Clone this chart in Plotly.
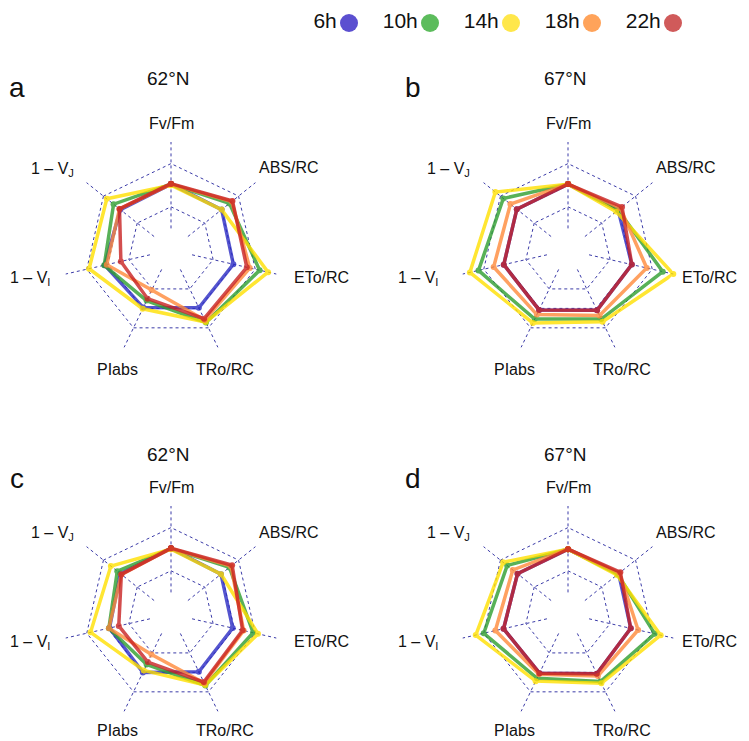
import plotly.graph_objects as go

# page is 749x741; the HTML body keeps an 8px margin, so the figure is 8px smaller
PAGE_W, PAGE_H, M = 749, 741, 8
FW, FH = PAGE_W - M, PAGE_H - M

axis_labels = ["Fv/Fm", "ABS/RC", "ETo/RC", "TRo/RC", "PIabs",
               "1 – V<sub>I</sub>", "1 – V<sub>J</sub>"]
hours = ["6h", "10h", "14h", "18h", "22h"]
latitudes = ["62°N", "67°N", "62°N", "67°N"]
panel_letters = ["a", "b", "c", "d"]

# panel a (62°N, top)
a_6h = [3.05, 3.00, 2.96, 2.97, 2.96, 3.15, 3.00]
a_10h = [3.05, 3.46, 4.21, 3.73, 2.60, 3.17, 3.40]
a_14h = [3.00, 3.00, 4.61, 3.70, 3.02, 3.89, 3.80]
a_18h = [3.05, 3.60, 3.74, 3.60, 2.06, 3.05, 3.05]
a_22h = [3.07, 3.64, 3.60, 3.53, 2.50, 2.38, 3.05]
# panel b (67°N, top)
b_6h = [3.05, 2.97, 3.03, 3.10, 3.08, 3.05, 3.03]
b_10h = [3.05, 2.97, 4.50, 3.55, 3.55, 4.25, 3.83]
b_14h = [3.05, 2.85, 5.00, 3.69, 3.75, 4.66, 4.30]
b_18h = [3.05, 3.10, 3.74, 3.37, 3.32, 3.53, 3.41]
b_22h = [3.05, 3.20, 3.03, 3.10, 3.08, 3.05, 3.03]
# panel c (62°N, bottom)
c_6h = [3.03, 2.96, 2.93, 2.97, 3.00, 2.92, 3.00]
c_10h = [3.03, 3.46, 3.90, 3.67, 2.60, 2.95, 3.18]
c_14h = [3.00, 2.96, 4.13, 3.65, 2.90, 3.82, 3.56]
c_18h = [3.03, 3.55, 3.45, 3.55, 2.08, 2.95, 2.94]
c_22h = [3.05, 3.62, 3.40, 3.50, 2.47, 2.48, 2.94]
# panel d (67°N, bottom)
d_6h = [3.00, 3.00, 2.98, 3.07, 3.04, 3.06, 2.99]
d_10h = [3.00, 2.95, 4.12, 3.47, 3.30, 4.00, 3.60]
d_14h = [3.00, 2.90, 4.40, 3.56, 3.45, 4.38, 3.84]
d_18h = [3.00, 3.05, 3.33, 3.19, 3.10, 3.45, 3.27]
d_22h = [3.00, 3.10, 2.98, 3.07, 3.04, 3.06, 2.99]

panels = [
    [a_6h, a_10h, a_14h, a_18h, a_22h],
    [b_6h, b_10h, b_14h, b_18h, b_22h],
    [c_6h, c_10h, c_14h, c_18h, c_22h],
    [d_6h, d_10h, d_14h, d_18h, d_22h],
]

line_colors = ["#2b2bc4", "#2f9e2f", "#ffe000", "#ff8a3a", "#c92222"]
legend_colors = ["#5b4fd0", "#5cbc5c", "#ffe74a", "#ffa35a", "#d05a5a"]

# layout geometry (page pixels)
centers = [(171, 250), (568, 250), (171, 614), (568, 614)]
R = 108
label_offsets = [(0, -127), (118, -82), (150, 27.5), (54, 120), (-54, 120),
                 (-150, 28), (-119, -81)]
bottom_label_dy = [120, 120, 116, 116]
label_xmin, label_xmax = 30, 709
title_dy = [-172, -172, -159, -159]
letter_pos = [(17, 87), (413, 87), (17, 478), (413, 478)]


def px(x):
    return (x - M) / FW


def py(y):
    return 1 - (y - M) / FH


font_family = "Liberation Sans, Arial, sans-serif"
fig = go.Figure()
annots = []

for p, series in enumerate(panels):
    pname = "polar" if p == 0 else f"polar{p+1}"
    for h, vals in enumerate(series):
        fig.add_trace(go.Scatterpolar(
            r=vals + [vals[0]],
            theta=axis_labels + [axis_labels[0]],
            mode="lines+markers",
            line=dict(color=line_colors[h], width=3.5),
            marker=dict(color=line_colors[h], size=6),
            opacity=0.8,
            name=hours[h],
            showlegend=False,
            cliponaxis=False,
            subplot=pname,
        ))
    cx, cy = centers[p]
    fig.layout[pname] = dict(
        domain=dict(x=[px(cx - R), px(cx + R)], y=[py(cy + R), py(cy - R)]),
        gridshape="linear",
        hole=0.2,
        bgcolor="white",
        radialaxis=dict(range=[0.9999, 5.0001], tickvals=[1, 2, 3, 4, 5],
                        showticklabels=False, ticks="", showline=False,
                        gridcolor="#3b3ba8", griddash="dot", gridwidth=1),
        angularaxis=dict(rotation=90, direction="clockwise",
                         categoryarray=axis_labels, categoryorder="array",
                         showline=False, ticks="", showticklabels=False,
                         gridcolor="#3b3ba8", griddash="dot", gridwidth=1),
    )
    for k, (lab, (dx, dy)) in enumerate(zip(axis_labels, label_offsets)):
        if k in (3, 4):
            dy = bottom_label_dy[p]
        lxp = min(max(cx + dx, label_xmin), label_xmax)
        annots.append(dict(text=lab, x=px(lxp), y=py(cy + dy),
                           xref="paper", yref="paper", showarrow=False,
                           font=dict(size=16, color="#111", family=font_family),
                           xanchor="center", yanchor="middle"))
    annots.append(dict(text=latitudes[p], x=px(cx - 3), y=py(cy + title_dy[p]),
                       xref="paper", yref="paper", showarrow=False,
                       font=dict(size=19, color="#111", family=font_family),
                       xanchor="center", yanchor="middle"))
    lx, ly = letter_pos[p]
    annots.append(dict(text=panel_letters[p], x=px(lx), y=py(ly),
                       xref="paper", yref="paper", showarrow=False,
                       font=dict(size=28, color="#111", family=font_family),
                       xanchor="center", yanchor="middle"))

# legend drawn as a small hidden cartesian subplot (label left of dot)
fig.add_trace(go.Scatter(
    x=list(range(len(hours))), y=[0] * len(hours),
    mode="markers+text", text=hours, textposition="middle left",
    textfont=dict(size=21, color="#111", family=font_family),
    marker=dict(color=legend_colors, size=18),
    showlegend=False, cliponaxis=False, hoverinfo="skip",
))
fig.update_layout(
    xaxis=dict(domain=[px(349), px(673)], range=[0, 4], visible=False, fixedrange=True),
    yaxis=dict(domain=[py(36), py(10)], range=[-1, 1], visible=False, fixedrange=True),
)

fig.update_layout(
    width=FW, height=FH,
    margin=dict(l=0, r=0, t=0, b=0),
    paper_bgcolor="white", plot_bgcolor="white",
    annotations=annots,
    font=dict(family=font_family),
)

fig.write_html("out.html")
